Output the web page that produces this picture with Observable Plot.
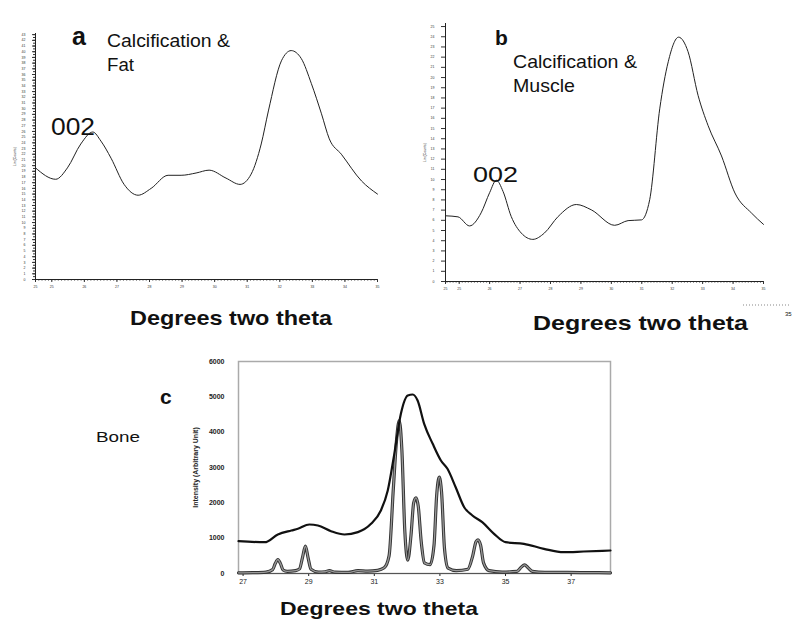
<!DOCTYPE html>
<html>
<head>
<meta charset="utf-8">
<script src="https://cdn.jsdelivr.net/npm/d3@7"></script>
<script src="https://cdn.jsdelivr.net/npm/@observablehq/plot@0.6"></script>
<style>
  html, body { margin: 0; padding: 0; background: #fff; }
  #root { position: relative; width: 800px; height: 626px; overflow: hidden; font-family: "Liberation Sans", Arial, sans-serif; }
  .panel { position: absolute; }
  #overlay { position: absolute; left: 0; top: 0; pointer-events: none; }
</style>
</head>
<body>
<div id="root">
  <div id="pa" class="panel" style="left:0;top:0"></div>
  <div id="pb" class="panel" style="left:400px;top:0"></div>
  <div id="pc" class="panel" style="left:150px;top:340px"></div>
</div>
<script>
// ---------- Panel a : Calcification & Fat ----------
const aTheta  = [24.5, 25.12, 25.48, 25.89, 26.26, 26.51, 26.82, 27.22, 27.65, 28.05, 28.57, 28.97, 29.43, 29.83, 30.35, 30.78, 31.12, 31.43, 31.65, 32.05, 32.35, 32.66, 32.97, 33.28, 33.52, 33.89, 34.51, 35.0];
const aCounts = [19.6, 17.6, 19.6, 23.8, 25.9, 24.3, 21.3, 16.7, 14.8, 16.0, 18.3, 18.3, 18.7, 19.2, 17.8, 16.7, 18.5, 23.8, 29.6, 38.4, 40.2, 38.8, 34.4, 29.1, 24.7, 22.0, 17.3, 15.0];
const aXTicks = [24.5, 25, 26, 27, 28, 29, 30, 31, 32, 33, 34, 35];
const aYTicks = [0,1,2,3,4,5,6,7,8,9,10,11,12,13,14,15,16,17,18,19,20,21,22,23,24,25,26,27,28,29,30,31,32,33,34,35,36,37,38,39,40,41,42,43];

// ---------- Panel b : Calcification & Muscle ----------
const bTheta  = [24.57, 24.96, 25.34, 25.72, 26.0, 26.22, 26.44, 26.71, 27.04, 27.42, 27.8, 28.25, 28.85, 29.34, 30.11, 30.55, 30.99, 31.26, 31.59, 31.87, 32.21, 32.52, 32.85, 33.18, 33.62, 34.06, 34.61, 35.0];
const bCounts = [6.44, 6.34, 5.45, 6.73, 8.71, 9.93, 8.84, 6.37, 4.75, 4.13, 4.75, 6.37, 7.55, 7.03, 5.51, 5.97, 6.04, 8.02, 16.93, 21.55, 23.96, 22.54, 18.25, 15.28, 12.31, 8.68, 6.7, 5.6];
const bXTicks = [24.55, 25, 26, 27, 28, 29, 30, 31, 32, 33, 34, 35];
const bYTicks = [0,1,2,3,4,5,6,7,8,9,10,11,12,13,14,15,16,17,18,19,20,21,22,23,24,25];

// ---------- Panel c : Bone ----------
const cBoneTheta = [26.86, 27.66, 28.06, 28.47, 28.67, 29.02, 29.28, 29.68, 30.09, 30.50, 30.90, 31.20, 31.41, 31.61, 31.81, 32.02, 32.17, 32.32, 32.52, 32.78, 33.03, 33.23, 33.48, 33.74, 33.99, 34.29, 34.65, 35.0, 35.56, 36.17, 36.77, 37.38, 38.2];
const cBoneInt   = [914, 886, 1104, 1217, 1265, 1387, 1358, 1198, 1104, 1170, 1405, 1783, 2349, 3387, 4519, 5037, 5066, 4896, 4236, 3670, 3198, 2963, 2442, 1876, 1641, 1452, 1123, 886, 840, 699, 603, 622, 651];
const cRefTheta = [26.86, 27.3, 27.7, 27.9, 27.98, 28.06, 28.14, 28.22, 28.35, 28.6, 28.72, 28.81, 28.9, 28.98, 29.07, 29.3, 29.5, 29.63, 29.8, 30.2, 30.5, 30.8, 31.1, 31.3, 31.45, 31.58, 31.68, 31.76, 31.84, 31.93, 32.02, 32.12, 32.2, 32.27, 32.34, 32.43, 32.53, 32.7, 32.82, 32.9, 32.98, 33.05, 33.14, 33.25, 33.5, 33.85, 34.0, 34.1, 34.16, 34.24, 34.33, 34.5, 34.9, 35.35, 35.48, 35.58, 35.68, 35.82, 36.2, 36.9, 37.5, 38.2];
const cRefInt   = [20, 25, 40, 110, 280, 396, 280, 100, 60, 80, 130, 450, 773, 450, 120, 40, 50, 80, 40, 30, 80, 70, 90, 160, 500, 2400, 3800, 4330, 3500, 1200, 380, 1100, 2000, 2142, 1900, 900, 300, 250, 800, 2200, 2726, 2300, 700, 150, 80, 120, 500, 900, 954, 800, 300, 80, 40, 60, 180, 245, 170, 60, 30, 30, 25, 20];
const cXTicks = [27, 29, 31, 33, 35, 37];
const cYTicks = [0, 1000, 2000, 3000, 4000, 5000, 6000];

const font = "'Liberation Sans', Arial, sans-serif";
const zip = (xs, ys) => xs.map((x, i) => ({x, y: ys[i]}));

// ---- Plot a ----
const plotA = Plot.plot({
  width: 400, height: 300,
  marginLeft: 35, marginRight: 23, marginTop: 33, marginBottom: 21,
  style: {fontFamily: font, background: "transparent", color: "#333"},
  x: {domain: [24.5, 35]},
  y: {domain: [0, 43.2]},
  marks: [
    Plot.axisY(aYTicks, {tickSize: 3, tickPadding: 7, fontSize: 3.5, label: "Lin (Counts)", labelAnchor: "center", labelArrow: "none", labelOffset: 22}),
    Plot.axisY(d3.range(0, 43.01, 0.5), {tickSize: 2, text: null, label: null}),
    Plot.axisX(aXTicks, {tickSize: 3, tickPadding: 3, fontSize: 3.5, label: null}),
    Plot.axisX(d3.range(24.5, 35.01, 0.1), {tickSize: 1.5, text: null, label: null}),
    Plot.ruleX([24.5], {stroke: "#222"}),
    Plot.ruleY([0], {stroke: "#222"}),
    Plot.line(zip(aTheta, aCounts), {x: "x", y: "y", curve: "monotone-x", stroke: "#222", strokeWidth: 1})
  ]
});
document.getElementById("pa").append(plotA);

// ---- Plot b ----
const plotB = Plot.plot({
  width: 400, height: 300,
  marginLeft: 45, marginRight: 37, marginTop: 23, marginBottom: 19,
  style: {fontFamily: font, background: "transparent", color: "#333"},
  x: {domain: [24.55, 35]},
  y: {domain: [0, 25.3]},
  marks: [
    Plot.axisY(bYTicks, {tickSize: 4, tickPadding: 7, fontSize: 3.5, label: "Lin (Counts)", labelAnchor: "center", labelArrow: "none", labelOffset: 22}),
    Plot.axisX(bXTicks, {tickSize: 3, tickPadding: 3, fontSize: 3.5, label: null}),
    Plot.axisX(d3.range(24.6, 35.01, 0.1), {tickSize: 1.5, text: null, label: null}),
    Plot.ruleX([24.55], {stroke: "#222"}),
    Plot.ruleY([0], {stroke: "#222"}),
    Plot.line(zip(bTheta, bCounts), {x: "x", y: "y", curve: "monotone-x", stroke: "#222", strokeWidth: 1})
  ]
});
document.getElementById("pb").append(plotB);

// ---- Plot c ----
const plotC = Plot.plot({
  width: 480, height: 250,
  marginLeft: 88, marginRight: 20, marginTop: 21, marginBottom: 17,
  style: {fontFamily: font, background: "transparent", color: "#222"},
  x: {domain: [26.86, 38.2]},
  y: {domain: [0, 6000]},
  marks: [
    Plot.frame({stroke: "#aaa", strokeWidth: 1.5}),
    Plot.axisY(cYTicks, {tickSize: 0, tickPadding: 14, fontSize: 7, tickFormat: d => String(d), label: "Intensity (Arbitrary Unit)", labelAnchor: "center", labelArrow: "none", labelOffset: 45, fontWeight: "bold"}),
    Plot.axisX(cXTicks, {tickSize: 3, tickPadding: 3, fontSize: 7, tickFormat: d => String(d), label: null}),
    Plot.ruleY([0], {stroke: "#555", strokeWidth: 1.2}),
    Plot.line(zip(cRefTheta, cRefInt), {x: "x", y: "y", curve: "monotone-x", stroke: "#333", strokeWidth: 3.2}),
    Plot.line(zip(cRefTheta, cRefInt), {x: "x", y: "y", curve: "monotone-x", stroke: "#9a9a9a", strokeWidth: 1.3}),
    Plot.line(zip(cBoneTheta, cBoneInt), {x: "x", y: "y", curve: "monotone-x", stroke: "#111", strokeWidth: 2.2})
  ]
});
document.getElementById("pc").append(plotC);

// ---- annotation text overlay ----
const texts = [
  {t: "a", x: 72, y: 45, s: 25, w: "bold"},
  {t: "Calcification &", x: 107, y: 47, s: 17.5, len: 123},
  {t: "Fat", x: 107, y: 71, s: 17.5, len: 27},
  {t: "002", x: 51, y: 135, s: 23, len: 44},
  {t: "Degrees two theta", x: 130, y: 325, s: 21, w: "bold", len: 202},
  {t: "b", x: 495, y: 45, s: 21, w: "bold"},
  {t: "Calcification &", x: 513, y: 68, s: 18.5, len: 124},
  {t: "Muscle", x: 513, y: 92, s: 18.5, len: 62},
  {t: "002", x: 473, y: 182, s: 22.5, len: 45},
  {t: "Degrees two theta", x: 533, y: 330, s: 21, w: "bold", len: 215},
  {t: "35", x: 785, y: 316, s: 6},
  {t: "c", x: 160, y: 404, s: 21, w: "bold"},
  {t: "Bone", x: 96, y: 442, s: 15, len: 44},
  {t: "Degrees two theta", x: 280, y: 615, s: 19, w: "bold", len: 198}
];
const ns = "http://www.w3.org/2000/svg";
const ov = document.createElementNS(ns, "svg");
ov.setAttribute("id", "overlay");
ov.setAttribute("width", 800);
ov.setAttribute("height", 626);
for (const d of texts) {
  const el = document.createElementNS(ns, "text");
  el.setAttribute("x", d.x);
  el.setAttribute("y", d.y);
  el.setAttribute("font-size", d.s);
  el.setAttribute("font-family", font);
  el.setAttribute("fill", "#111");
  if (d.w) el.setAttribute("font-weight", d.w);
  if (d.len) { el.setAttribute("textLength", d.len); el.setAttribute("lengthAdjust", "spacingAndGlyphs"); }
  el.textContent = d.t;
  ov.append(el);
}
const dots = document.createElementNS(ns, "line");
dots.setAttribute("x1", 743); dots.setAttribute("x2", 790);
dots.setAttribute("y1", 305); dots.setAttribute("y2", 305);
dots.setAttribute("stroke", "#888"); dots.setAttribute("stroke-width", 1.2);
dots.setAttribute("stroke-dasharray", "1 2");
ov.append(dots);
document.getElementById("root").append(ov);
</script>
</body>
</html>
